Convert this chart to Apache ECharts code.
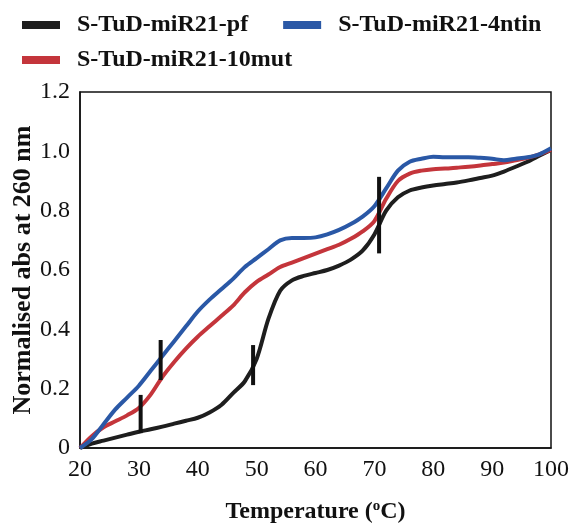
<!DOCTYPE html>
<html>
<head>
<meta charset="utf-8">
<script src="https://cdn.jsdelivr.net/npm/echarts@6/dist/echarts.min.js"></script>
<style>
html,body{margin:0;padding:0;background:#fff;}
#c{width:572px;height:524px;}
</style>
</head>
<body>
<div id="c"></div>
<script>
// Temperatures (°C)
var temps = [20,22,24,26,28,30,32,34,36,38,40,42,44,46,48,50,52,54,56,58,60,62,64,66,68,70,72,74,76,78,80,82,84,86,88,90,92,94,96,98,100];
// Series values (normalised abs at 260 nm)
var pf = [0.00,0.015,0.025,0.035,0.045,0.055,0.063,0.072,0.082,0.092,0.102,0.12,0.145,0.185,0.225,0.30,0.435,0.53,0.565,0.58,0.59,0.60,0.615,0.635,0.665,0.72,0.80,0.845,0.868,0.878,0.885,0.89,0.895,0.902,0.91,0.918,0.932,0.948,0.965,0.985,1.005];
var mut10 = [0.00,0.04,0.07,0.09,0.11,0.135,0.18,0.24,0.29,0.335,0.375,0.41,0.445,0.48,0.525,0.56,0.585,0.61,0.625,0.64,0.655,0.67,0.685,0.705,0.73,0.765,0.84,0.90,0.925,0.935,0.94,0.942,0.945,0.948,0.952,0.957,0.962,0.97,0.978,0.99,1.005];
var ntin4 = [0.00,0.03,0.08,0.13,0.17,0.21,0.26,0.31,0.36,0.41,0.46,0.50,0.535,0.57,0.61,0.64,0.67,0.70,0.708,0.708,0.71,0.72,0.735,0.755,0.78,0.815,0.875,0.935,0.965,0.975,0.982,0.98,0.98,0.98,0.978,0.975,0.97,0.975,0.98,0.99,1.01];
// Tm marker bars: temperature, low, high
var markerX = [30.3, 33.7, 49.4, 70.8];
var markerLow = [0.05, 0.229, 0.212, 0.656];
var markerHigh = [0.179, 0.364, 0.347, 0.914];
// Tick labels
var yTicks = [0, 0.2, 0.4, 0.6, 0.8, 1.0, 1.2];
var seriesNames = ['S-TuD-miR21-pf', 'S-TuD-miR21-4ntin', 'S-TuD-miR21-10mut'];

function pairs(vals){ return temps.map(function(t,i){ return [t, vals[i]]; }); }

var chart = echarts.init(document.getElementById('c'), null, {renderer:'canvas'});
var font = '"Liberation Serif","Times New Roman",serif';
var series = [
  {name: seriesNames[0], type:'line', data: pairs(pf), symbol:'none', smooth:0.3,
   lineStyle:{color:'#1e1e1e', width:4}, itemStyle:{color:'#1e1e1e'}},
  {name: seriesNames[2], type:'line', data: pairs(mut10), symbol:'none', smooth:0.3,
   lineStyle:{color:'#c4353b', width:4}, itemStyle:{color:'#c4353b'}},
  {name: seriesNames[1], type:'line', data: pairs(ntin4), symbol:'none', smooth:0.3,
   lineStyle:{color:'#2a58a6', width:4}, itemStyle:{color:'#2a58a6'}}
];
markerX.forEach(function(x,i){
  series.push({type:'line', data:[[x, markerLow[i]],[x, markerHigh[i]]], symbol:'none',
    lineStyle:{color:'#111', width:4, cap:'butt'}, z:5, silent:true});
});

var legendText = {fontFamily:font, fontWeight:'bold', fontSize:24, color:'#111', padding:[0,0,0,12]};
chart.setOption({
  animation:false,
  backgroundColor:'#fff',
  legend:[
    {data:[seriesNames[0], seriesNames[1]], left:17, top:8, icon:'rect', itemWidth:38, itemHeight:8, itemGap:35,
     textStyle:legendText},
    {data:[seriesNames[2]], left:17, top:43, icon:'rect', itemWidth:38, itemHeight:8,
     textStyle:legendText}
  ],
  grid:{left:80, right:21, top:92, bottom:76, show:true, borderColor:'#111', borderWidth:1.5,
    containLabel:false, outerBoundsMode:'none'},
  xAxis:{type:'value', min:20, max:100, interval:10,
    axisLine:{show:true, lineStyle:{color:'#111', width:1.5}}, axisTick:{show:false}, splitLine:{show:false},
    axisLabel:{fontFamily:font, fontSize:24, color:'#111', margin:10},
    name:'{b|Temperature (}{s|o}{b|C)}', nameLocation:'middle', nameGap:51,
    nameTextStyle:{rich:{
      b:{fontFamily:font, fontWeight:'bold', fontSize:24, color:'#111'},
      s:{fontFamily:font, fontWeight:'bold', fontSize:15, color:'#111', verticalAlign:'top', padding:[0,0,11,0]}
    }}},
  yAxis:{type:'value', min:0, max:1.2, interval:0.2,
    axisLine:{show:true, lineStyle:{color:'#111', width:1.5}}, axisTick:{show:false}, splitLine:{show:false},
    axisLabel:{fontFamily:font, fontSize:24, color:'#111', margin:10,
      formatter:function(v){ return Math.abs(v) < 1e-9 ? '0' : v.toFixed(1); }},
    name:'Normalised abs at 260 nm', nameLocation:'middle', nameGap:44, nameMoveOverlap:false,
    nameTextStyle:{fontFamily:font, fontWeight:'bold', fontSize:26, color:'#111'}},
  series:series
});
</script>
</body>
</html>
